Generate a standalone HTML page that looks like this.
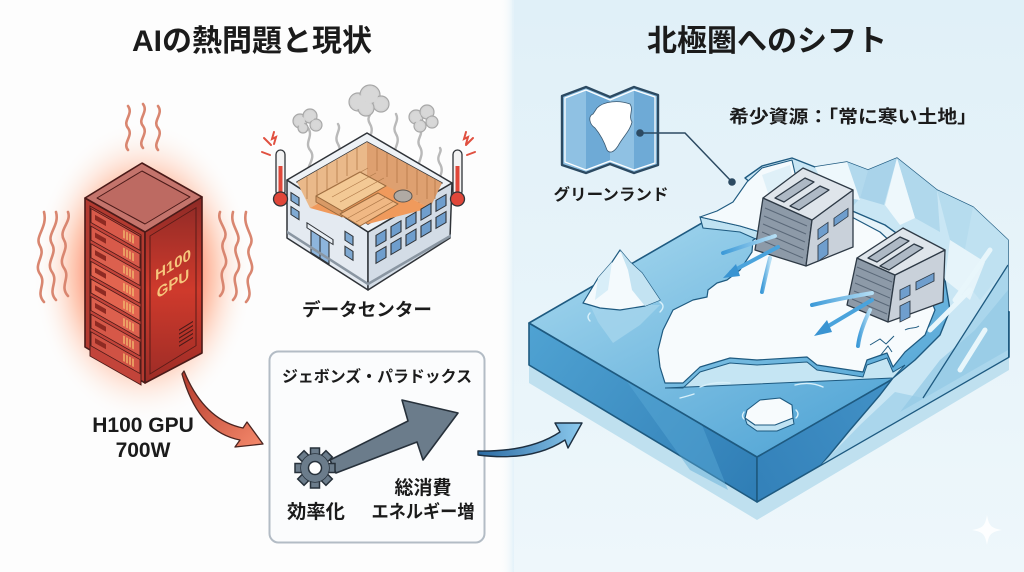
<!DOCTYPE html>
<html><head><meta charset="utf-8">
<style>
html,body{margin:0;padding:0;width:1024px;height:572px;overflow:hidden;background:#fdfdfd;}
svg{display:block;}
text{font-family:"Liberation Sans","Noto Sans CJK JP",sans-serif;font-weight:700;fill:#1b1b1b;}
</style></head><body>
<svg width="1024" height="572" viewBox="0 0 1024 572" xmlns="http://www.w3.org/2000/svg">
<defs>
<linearGradient id="bgR" x1="0" y1="0" x2="0" y2="1"><stop offset="0" stop-color="#e0f0f8"/><stop offset="1" stop-color="#eef7fb"/></linearGradient>
<linearGradient id="bgEdge" x1="0" y1="0" x2="1" y2="0"><stop offset="0" stop-color="#fdfdfd" stop-opacity="0"/><stop offset="1" stop-color="#e4f2f9"/></linearGradient>
<radialGradient id="glow" cx="143" cy="272" r="135" gradientUnits="userSpaceOnUse" gradientTransform="translate(143 272) scale(0.82 1.12) translate(-143 -272)">
 <stop offset="0" stop-color="#ff3010" stop-opacity="1"/>
 <stop offset="0.4" stop-color="#ff5530" stop-opacity="0.8"/>
 <stop offset="0.65" stop-color="#ff9a70" stop-opacity="0.48"/>
 <stop offset="0.85" stop-color="#ffd0b8" stop-opacity="0.18"/>
 <stop offset="1" stop-color="#ffffff" stop-opacity="0"/>
</radialGradient>
<linearGradient id="rackR" x1="0" y1="0" x2="0" y2="1"><stop offset="0" stop-color="#8e2a26"/><stop offset="0.5" stop-color="#cf3a2c"/><stop offset="1" stop-color="#9c2c26"/></linearGradient>
<linearGradient id="redArr" x1="0" y1="0" x2="1" y2="1"><stop offset="0" stop-color="#b3392b"/><stop offset="1" stop-color="#f58a6c"/></linearGradient>
<linearGradient id="blueArr" x1="0" y1="0" x2="1" y2="0"><stop offset="0" stop-color="#2a6aa2"/><stop offset="1" stop-color="#8ccaee"/></linearGradient>
<linearGradient id="water" x1="650" y1="220" x2="770" y2="450" gradientUnits="userSpaceOnUse"><stop offset="0" stop-color="#9ed3ec"/><stop offset="1" stop-color="#5aaad8"/></linearGradient>
<linearGradient id="faceL" x1="529" y1="330" x2="757" y2="500" gradientUnits="userSpaceOnUse"><stop offset="0" stop-color="#4fa2d2"/><stop offset="1" stop-color="#2f7db5"/></linearGradient>
<linearGradient id="faceR" x1="757" y1="480" x2="1009" y2="330" gradientUnits="userSpaceOnUse"><stop offset="0" stop-color="#3482ba"/><stop offset="1" stop-color="#4c9ccf"/></linearGradient>
<linearGradient id="wind" x1="0" y1="0" x2="1" y2="0"><stop offset="0" stop-color="#3d9ad8"/><stop offset="1" stop-color="#b5def4"/></linearGradient>
<linearGradient id="wood" x1="0" y1="0" x2="0" y2="1"><stop offset="0" stop-color="#ecc092"/><stop offset="1" stop-color="#e39a62"/></linearGradient>
</defs>

<!-- backgrounds -->
<rect x="0" y="0" width="1024" height="572" fill="#fdfdfd"/>
<rect x="512" y="0" width="512" height="572" fill="url(#bgR)"/>
<rect x="500" y="0" width="14" height="572" fill="url(#bgEdge)"/>

<!-- titles -->
<text x="252" y="51" font-size="30" text-anchor="middle">AIの熱問題と現状</text>
<text x="767" y="51" font-size="30" text-anchor="middle">北極圏へのシフト</text>

<!-- glow -->
<ellipse cx="143" cy="272" rx="115" ry="155" fill="url(#glow)"/>

<!-- heat waves -->
<g fill="none" stroke="#d98670" stroke-width="2.6" stroke-linecap="round">
 <path d="M128,150 c-6,-7 6,-14 0,-22 c-6,-7 6,-14 0,-22"/>
 <path d="M143,148 c-6,-7 6,-14 0,-22 c-6,-7 6,-14 0,-22"/>
 <path d="M158,150 c-6,-7 6,-14 0,-22 c-6,-7 6,-14 0,-22"/>
 <path d="M44,302 c-9,-10 3,-18 -4,-28 c-7,-10 6,-18 0,-28 c-6,-10 8,-18 4,-34"/>
 <path d="M56,300 c-9,-10 3,-18 -4,-28 c-7,-10 6,-18 0,-28 c-6,-10 8,-18 4,-32"/>
 <path d="M68,296 c-9,-10 3,-18 -4,-28 c-7,-10 6,-18 0,-28 c-6,-10 8,-18 4,-28"/>
 <path d="M220,296 c9,-10 -3,-18 4,-28 c7,-10 -6,-18 0,-28 c6,-10 -8,-18 -4,-28"/>
 <path d="M233,300 c9,-10 -3,-18 4,-28 c7,-10 -6,-18 0,-28 c6,-10 -8,-18 -4,-32"/>
 <path d="M246,302 c9,-10 -3,-18 4,-28 c7,-10 -6,-18 0,-28 c6,-10 -8,-18 -4,-34"/>
</g>

<!-- rack -->
<g stroke="#4a1a18" stroke-width="1.6" stroke-linejoin="round">
 <polygon points="85,198 145,232 145,383 85,347" fill="#b33a30"/>
 <polygon points="145,232 202,197 202,353 145,383" fill="url(#rackR)"/>
 <polygon points="85,198 142,163 202,197 145,232" fill="#c4746c"/>
 <polygon points="97,198 142,171 190,197 145,224" fill="#bd6a62" stroke-width="1"/>
</g>
<g transform="matrix(1,0.567,0,1,0,0)">
 <rect x="90" y="155" width="51" height="150" fill="#c2443a" stroke="#4a1a18" stroke-width="1"/>
 <g stroke="#4a1a18" stroke-width="0.9">
  <rect x="91" y="157" width="49" height="14" fill="#d85a4a"/>
  <rect x="91" y="174.6" width="49" height="14" fill="#d85a4a"/>
  <rect x="91" y="192.2" width="49" height="14" fill="#dc604e"/>
  <rect x="91" y="209.8" width="49" height="14" fill="#e2644f"/>
  <rect x="91" y="227.4" width="49" height="14" fill="#e2644f"/>
  <rect x="91" y="245" width="49" height="14" fill="#dc604e"/>
  <rect x="91" y="262.6" width="49" height="14" fill="#d65848"/>
  <rect x="91" y="280.2" width="49" height="14" fill="#d05244"/>
 </g>
 <g fill="#8e2a22">
  <rect x="95" y="161" width="11" height="5"/><rect x="95" y="178.6" width="11" height="5"/><rect x="95" y="196.2" width="11" height="5"/><rect x="95" y="213.8" width="11" height="5"/><rect x="95" y="231.4" width="11" height="5"/><rect x="95" y="249" width="11" height="5"/><rect x="95" y="266.6" width="11" height="5"/><rect x="95" y="284.2" width="11" height="5"/>
 </g>
 <g stroke="#f4c070" stroke-width="1.3">
  <path d="M124,160v8M127,160v8M130,160v8M133,160v8M124,177.6v8M127,177.6v8M130,177.6v8M133,177.6v8M124,195.2v8M127,195.2v8M130,195.2v8M133,195.2v8M124,212.8v8M127,212.8v8M130,212.8v8M133,212.8v8M124,230.4v8M127,230.4v8M130,230.4v8M133,230.4v8M124,248v8M127,248v8M130,248v8M133,248v8M124,265.6v8M127,265.6v8M130,265.6v8M133,265.6v8M124,283.2v8M127,283.2v8M130,283.2v8M133,283.2v8"/>
 </g>
</g>
<g transform="matrix(1,-0.614,0,1,0,0)">
 <rect x="150" y="328" width="46" height="138" fill="none" stroke="#5a1c18" stroke-width="1"/>
 <text x="173" y="376" font-size="15" text-anchor="middle" style="fill:#f6c77c">H100</text>
 <text x="173" y="395" font-size="15" text-anchor="middle" style="fill:#f6c77c">GPU</text>
 <path d="M179,440h14M179,444h14M179,448h14M179,452h14M179,456h14" stroke="#4a1a18" stroke-width="1.2"/>
</g>

<!-- data center -->
<g fill="none" stroke="#b9b9b9" stroke-width="2.4" stroke-linecap="round">
 <path d="M310,178 c-8,-10 8,-18 0,-28 c-6,-8 4,-14 -2,-22"/>
 <path d="M338,172 c-6,-10 6,-18 0,-28 c-5,-8 4,-14 0,-20"/>
 <path d="M370,150 c-6,-10 6,-16 0,-26 c-5,-8 4,-10 0,-16"/>
 <path d="M396,160 c-6,-10 6,-16 0,-26 c-5,-8 4,-12 0,-20"/>
 <path d="M420,175 c-7,-10 6,-18 0,-28 c-5,-8 4,-12 0,-18"/>
 <path d="M440,190 c-6,-10 6,-16 0,-26 c-5,-8 3,-12 0,-16"/>
</g>
<g fill="#d4d4d4" stroke="#a8a8a8" stroke-width="1.2">
 <circle cx="358" cy="102" r="9"/><circle cx="370" cy="95" r="10"/><circle cx="381" cy="104" r="8"/><circle cx="366" cy="108" r="8"/>
 <circle cx="300" cy="121" r="7"/><circle cx="310" cy="116" r="7"/><circle cx="316" cy="125" r="6"/><circle cx="303" cy="128" r="5"/>
 <circle cx="416" cy="117" r="7"/><circle cx="427" cy="112" r="7"/><circle cx="432" cy="122" r="6"/><circle cx="420" cy="126" r="6"/>
</g>
<g fill="#d8d8d8">
 <circle cx="358" cy="102" r="7"/><circle cx="370" cy="95" r="8"/><circle cx="381" cy="104" r="6"/><circle cx="366" cy="108" r="6"/>
 <circle cx="300" cy="121" r="5"/><circle cx="310" cy="116" r="5"/><circle cx="316" cy="125" r="4"/><circle cx="303" cy="128" r="3.5"/>
 <circle cx="416" cy="117" r="5"/><circle cx="427" cy="112" r="5"/><circle cx="432" cy="122" r="4"/><circle cx="420" cy="126" r="4"/>
</g>
<g stroke="#2f3338" stroke-width="1.5" stroke-linejoin="round">
 <polygon points="287,180 368,232 368,290 287,238" fill="#e4eaf1"/>
 <polygon points="368,232 452,183 450,238 368,290" fill="#d3dce6"/>
 <polygon points="287,180 367,133 452,183 368,232" fill="#eef2f6"/>
 <polygon points="297,182 367,142 442,183 368,224" fill="url(#wood)"/>
</g>
<polygon points="297,182 367,142 367,176 310,208" fill="#eab98a"/>
<polygon points="367,142 442,183 430,208 367,176" fill="#dea070"/>
<polygon points="310,208 367,176 430,208 368,224" fill="#f09a5c"/>
<g stroke="#b57a4a" stroke-width="0.8">
 <path d="M307,177v22M317,171v24M327,165v25M337,160v23M347,154v22M357,148v22M377,148v23M387,153v24M397,159v24M407,164v25M417,170v25M427,175v24M435,179v20"/>
</g>
<g stroke="#9a6a3e" stroke-width="1" stroke-linejoin="round">
 <polygon points="316,196 360,172 386,186 342,211" fill="#f3c995"/>
 <polygon points="316,196 342,211 342,217 316,202" fill="#d89a66"/>
 <polygon points="340,214 378,193 398,204 360,226" fill="#f0b884"/>
 <ellipse cx="403" cy="196" rx="9" ry="6" fill="#b0aaa4" stroke="#5a5550"/>
</g>
<g stroke="#b07a4a" stroke-width="0.7"><path d="M324,192l44,-24M332,197l44,-24M340,202l44,-24M348,218l38,-21M356,222l38,-21"/></g>
<g transform="matrix(1,0.642,0,1,287,180)" stroke="#2f3338" stroke-width="1.1">
 <rect x="4" y="10" width="8" height="8" fill="#7fa9d2"/>
 <rect x="4" y="24" width="8" height="8" fill="#7fa9d2"/>
 <rect x="58" y="14" width="8" height="9" fill="#7fa9d2"/>
 <rect x="58" y="29" width="8" height="9" fill="#7fa9d2"/>
 <rect x="20" y="30" width="26" height="5" fill="#e8eef4"/>
 <rect x="24" y="35" width="18" height="22" fill="#8db5dc"/>
 <path d="M33,35v22" />
 <path d="M0,52 L81,52" stroke="#8a96a2" stroke-width="3"/>
</g>
<g transform="matrix(1,-0.583,0,1,368,232)" stroke="#2f3338" stroke-width="1.1" fill="#6f9ecd">
 <rect x="8" y="8" width="10" height="11"/><rect x="23" y="8" width="10" height="11"/><rect x="38" y="8" width="10" height="11"/><rect x="53" y="8" width="10" height="11"/><rect x="68" y="8" width="10" height="11"/>
 <rect x="8" y="25" width="10" height="11"/><rect x="23" y="25" width="10" height="11"/><rect x="38" y="25" width="10" height="11"/><rect x="53" y="25" width="10" height="11"/><rect x="68" y="25" width="10" height="11"/>
 <path d="M0,52 L83,52" stroke="#8a96a2" stroke-width="3"/>
</g>
<g stroke="#2f3338" stroke-width="1.3">
 <rect x="276" y="150" width="9" height="46" rx="4.5" fill="#f3f3f3"/>
 <rect x="278.5" y="166" width="4" height="30" fill="#e0473a" stroke="none"/>
 <circle cx="280.5" cy="199" r="7" fill="#e0473a"/>
 <rect x="453" y="150" width="9" height="46" rx="4.5" fill="#f3f3f3"/>
 <rect x="455.5" y="166" width="4" height="30" fill="#e0473a" stroke="none"/>
 <circle cx="457.5" cy="199" r="7" fill="#e0473a"/>
</g>
<g stroke="#e05040" stroke-width="2" stroke-linecap="round" fill="none">
 <path d="M262,152l8,3M264,138l7,7M274,132l-2,7l4,-2l-2,7"/>
 <path d="M475,152l-8,3M473,138l-7,7M466,132l-2,7l4,-2l-2,7"/>
</g>
<text x="367" y="316" font-size="18" text-anchor="middle" textLength="130" lengthAdjust="spacingAndGlyphs">データセンター</text>

<!-- H100 label -->
<text x="143" y="432" font-size="21" text-anchor="middle">H100 GPU</text>
<text x="143" y="457" font-size="21" text-anchor="middle">700W</text>

<!-- red arrow -->
<path d="M184,371 Q204,420 243,428 L247,422 L263,444 L235,447 L240,440 Q198,432 182,374 Z" fill="url(#redArr)" stroke="#4a2420" stroke-width="1.3" stroke-linejoin="round"/>

<!-- Jevons box -->
<rect x="269.5" y="351.5" width="215" height="191" rx="9" fill="#fbfcfd" stroke="#b3bcc5" stroke-width="2"/>
<text x="377" y="382" font-size="16" text-anchor="middle" textLength="190" lengthAdjust="spacingAndGlyphs">ジェボンズ・パラドックス</text>
<path d="M330,460 L408,421 L402,400 L458,413 L423,460 L417,442 L336,473 Z" fill="#6b7c8b" stroke="#27313b" stroke-width="1.6" stroke-linejoin="round"/>
<g transform="translate(315,468)" fill="#6b7c8b" stroke="#27313b" stroke-width="1.5">
 <rect x="-4.5" y="-20" width="9" height="9" transform="rotate(0)"/>
 <rect x="-4.5" y="-20" width="9" height="9" transform="rotate(45)"/>
 <rect x="-4.5" y="-20" width="9" height="9" transform="rotate(90)"/>
 <rect x="-4.5" y="-20" width="9" height="9" transform="rotate(135)"/>
 <rect x="-4.5" y="-20" width="9" height="9" transform="rotate(180)"/>
 <rect x="-4.5" y="-20" width="9" height="9" transform="rotate(225)"/>
 <rect x="-4.5" y="-20" width="9" height="9" transform="rotate(270)"/>
 <rect x="-4.5" y="-20" width="9" height="9" transform="rotate(315)"/>
 <circle r="14"/>
 <circle r="14" stroke="none"/>
 <circle r="6.5" fill="#ffffff"/>
</g>
<text x="316" y="518" font-size="19" text-anchor="middle" textLength="58" lengthAdjust="spacingAndGlyphs">効率化</text>
<text x="423" y="494" font-size="19" text-anchor="middle" textLength="57" lengthAdjust="spacingAndGlyphs">総消費</text>
<text x="423" y="518" font-size="18" text-anchor="middle" textLength="103" lengthAdjust="spacingAndGlyphs">エネルギー増</text>

<!-- blue arrow -->
<path d="M478,451 Q530,452 560,432 L555,423 L582,423 L568,448 L565,440 Q532,462 478,455 Z" fill="url(#blueArr)" stroke="#1d2f40" stroke-width="1.4" stroke-linejoin="round"/>

<!-- map icon -->
<path d="M562,96 L586,87 L610,97 L634,87 L658,95 L658,165 L634,173 L610,164 L586,173 L562,165 Z" fill="#8fc1e3" stroke="#2c4a62" stroke-width="2.4" stroke-linejoin="round"/>
<polygon points="586,90 610,100 610,161 586,170" fill="#6eaad6"/>
<polygon points="634,90 656,97 656,163 634,170" fill="#6eaad6"/>
<path d="M565,98 L586,90 L610,100 L634,90 L655,97 L655,163 L634,170 L610,161 L586,170 L565,162 Z" fill="none" stroke="#ffffff" stroke-width="1.3" stroke-linejoin="round"/>
<path d="M597,108 C604,101 619,100 630,104 C634,110 628,116 632,122 C630,131 622,138 618,146 C614,152 610,154 607,150 C604,141 600,134 595,128 C589,124 588,116 593,114 Z" fill="#ffffff" stroke="#3a5870" stroke-width="0.8"/>
<circle cx="640" cy="133" r="3.8" fill="#2c4a62"/>
<path d="M640,133 L685,133 L732,182" fill="none" stroke="#2c4a62" stroke-width="1.5"/>
<circle cx="732" cy="182" r="3.8" fill="#2c4a62"/>
<text x="611" y="200" font-size="16" text-anchor="middle" textLength="115" lengthAdjust="spacingAndGlyphs">グリーンランド</text>
<text x="853" y="123" font-size="18" text-anchor="middle" textLength="248" lengthAdjust="spacingAndGlyphs">希少資源：「常に寒い土地」</text>

<!-- slab -->
<polygon points="529,365 529,383 757,520 1009,370 1009,357 757,502" fill="#bfe0ef"/>
<polygon points="529,323 757,457 757,502 529,365" fill="url(#faceL)" stroke="#1e5a80" stroke-width="1.6" stroke-linejoin="round"/>
<polygon points="620,372 700,420 728,490 690,470" fill="#5aaad8" opacity="0.45"/>
<polygon points="757,457 1009,312 1009,357 757,502" fill="url(#faceR)" stroke="#1e5a80" stroke-width="1.6" stroke-linejoin="round"/>
<polygon points="529,323 778,179 1009,312 757,457" fill="url(#water)" stroke="#1e5a80" stroke-width="1.6" stroke-linejoin="round"/>

<!-- mountains -->
<polygon points="745,178 762,166 792,158 815,167 847,162 868,170 897,158 937,190 973,207 1008,240 1008,357 822,464 850,430 880,395 893,378 915,360 940,335 950,310 945,280 920,250 885,225 850,210 800,195 765,195" fill="#c9e6f4" stroke="#1e5a80" stroke-width="1.4" stroke-linejoin="round"/>
<polygon points="1008,265 1008,357 822,464 860,425 895,392 923,398" fill="#aad6ec"/>
<polygon points="1008,290 1008,350 900,412 940,360 975,330" fill="#94c9e6" opacity="0.75"/>
<polygon points="847,162 868,170 860,198 848,212" fill="#b2d9ed"/>
<polygon points="868,170 897,158 884,205 860,198" fill="#a9d3ea"/>
<polygon points="897,158 937,190 940,232 915,218" fill="#b0d8ec"/>
<polygon points="937,190 973,207 1008,240 985,262 950,240" fill="#b6dcee"/>
<polygon points="897,158 915,218 900,225 885,205" fill="#eef8fc"/>
<polygon points="815,167 847,162 860,200 828,195" fill="#eef8fc"/>
<polygon points="973,207 1008,240 1008,265 980,300 960,275" fill="#bfe1f1"/>
<polygon points="950,240 985,262 970,300 945,280" fill="#e6f4fa"/>
<path d="M1008,265 L923,398" stroke="#1e5a80" stroke-width="1.3" fill="none"/>
<path d="M955,300 L990,250 M930,330 L970,290 M960,370 L985,330" stroke="#e8f6fb" stroke-width="5" fill="none" stroke-linecap="round"/>

<!-- back shelf -->
<polygon points="700,217 703,228 740,232 758,240 760,232 740,226" fill="#bfe2f2" stroke="#1e5a80" stroke-width="1.1"/>
<polygon points="700,217 717,211 733,202 747,182 762,168 792,160 800,195 780,215 760,232 740,226" fill="#f4fafd" stroke="#1e5a80" stroke-width="1.1" stroke-linejoin="round"/>
<polygon points="762,175 790,165 795,190 772,205" fill="#dff0f8"/>

<!-- land -->
<path d="M665,388 L683,388 L700,372 L730,363 L757,365 L807,362 L817,370 L863,377 L867,365 L887,358 L893,372 L905,365 L893,378 Z" fill="#c5e5f3" stroke="#1e5a80" stroke-width="1"/>
<polygon points="753,240 770,232 790,222 815,214 848,215 880,232 905,255 925,285 935,310 925,335 905,352 893,367 887,353 867,360 863,372 817,365 807,357 757,360 730,358 700,367 683,383 665,383 660,367 658,350 663,330 673,310 693,300 707,297 708,290 717,283 727,280 740,270 752,252" fill="#f7fbfd" stroke="#1e5a80" stroke-width="1.2" stroke-linejoin="round"/>
<path d="M870,345 l10,-6 l6,5 l8,-8 M880,356 l8,-10 l4,6" stroke="#1e5a80" stroke-width="1" fill="none"/>
<path d="M905,330 c5,-3 10,-1 14,-4" stroke="#1e5a80" stroke-width="1" fill="none"/>

<!-- water ripples -->
<g stroke="#d8f0fa" stroke-width="1.4" fill="none" stroke-linecap="round">
 <path d="M700,387 q15,-6 30,-4"/><path d="M795,385 q15,-4 28,2"/><path d="M680,398 q8,-2 14,-4"/>
 <path d="M590,313 q-4,4 0,8"/><path d="M660,302 q6,4 0,10"/><path d="M744,412 q-3,4 0,7"/><path d="M796,410 q4,4 0,8"/>
</g>

<!-- iceberg -->
<polygon points="590,305 660,305 640,325 613,343 598,322" fill="#a5d5ec" opacity="0.8"/>
<polygon points="583,303 598,278 612,262 620,250 630,262 642,273 650,285 660,300 645,306 620,310 600,308" fill="#f4fafd" stroke="#1e5a80" stroke-width="1.2" stroke-linejoin="round"/>
<polygon points="620,250 630,262 642,273 650,285 660,300 645,306 632,290 628,270" fill="#c3e3f2"/>
<polygon points="598,278 612,262 608,290 595,300" fill="#d8eef8"/>

<!-- ice floe -->
<polygon points="745,418 747,424 757,431 777,431 794,424 793,418" fill="#bfe2f2" stroke="#1e5a80" stroke-width="1"/>
<polygon points="747,410 760,400 780,398 792,405 793,418 775,425 755,425 745,418" fill="#f7fbfd" stroke="#1e5a80" stroke-width="1.1" stroke-linejoin="round"/>

<!-- building 1 -->
<g stroke="#2e3a46" stroke-width="1.3" stroke-linejoin="round">
 <polygon points="763,198 812,220 806,266 755,250" fill="#8d9aa8"/>
 <polygon points="812,220 853,190 853,247 806,266" fill="#c9d1da"/>
 <polygon points="763,198 803,168 853,190 812,220" fill="#dfe5eb"/>
 <polygon points="775,198 805,178 814,182 784,202" fill="#aeb9c5"/>
 <polygon points="790,206 820,186 829,190 799,210" fill="#aeb9c5"/>
</g>
<g stroke="#5a6878" stroke-width="1"><path d="M765,208l42,18M764,216l42,18M763,224l42,18M762,232l42,18M761,240l42,18"/></g>
<g transform="matrix(1,-0.7,0,1,0,0)" fill="#6f9ecd" stroke="#2e3a46" stroke-width="0.9">
 <rect x="818" y="802" width="10" height="10"/><rect x="834" y="802" width="14" height="8"/><rect x="818" y="818" width="10" height="16"/>
</g>

<!-- building 2 -->
<g stroke="#2e3a46" stroke-width="1.3" stroke-linejoin="round">
 <polygon points="857,258 895,275 888,322 847,305" fill="#8d9aa8"/>
 <polygon points="895,275 945,250 943,302 888,322" fill="#c9d1da"/>
 <polygon points="857,258 903,228 945,250 895,275" fill="#dfe5eb"/>
 <polygon points="868,258 900,237 909,241 877,262" fill="#aeb9c5"/>
 <polygon points="880,266 914,244 923,248 889,270" fill="#aeb9c5"/>
</g>
<g stroke="#5a6878" stroke-width="1"><path d="M857,267l35,15M856,275l35,15M855,283l35,15M854,291l35,15M852,299l35,15"/></g>
<g transform="matrix(1,-0.5,0,1,0,0)" fill="#6f9ecd" stroke="#2e3a46" stroke-width="0.9">
 <rect x="900" y="740" width="10" height="10"/><rect x="916" y="740" width="18" height="8"/><rect x="900" y="756" width="10" height="16"/>
</g>

<!-- wind arrows -->
<g fill="none" stroke="url(#wind)" stroke-linecap="round">
 <path d="M775,236 q-25,8 -52,17" stroke-width="4"/>
 <path d="M770,258 q-5,20 -8,34" stroke-width="4"/>
 <path d="M872,293 q-30,5 -60,12" stroke-width="4"/>
 <path d="M870,310 q-10,20 -12,36" stroke-width="4"/>
</g>
<path d="M778,247 L731,272" stroke="#4aa3dc" stroke-width="4" stroke-linecap="round"/>
<polygon points="723,278 736,264 740,276" fill="#3a94d2"/>
<path d="M872,300 L825,328" stroke="#4aa3dc" stroke-width="4" stroke-linecap="round"/>
<polygon points="814,336 827,320 832,332" fill="#3a94d2"/>

<!-- sparkle -->
<path d="M987,515 C989,526 991,528 1002,530 C991,532 989,534 987,545 C985,534 983,532 972,530 C983,528 985,526 987,515 Z" fill="#ffffff" opacity="0.85"/>
</svg>
</body></html>
